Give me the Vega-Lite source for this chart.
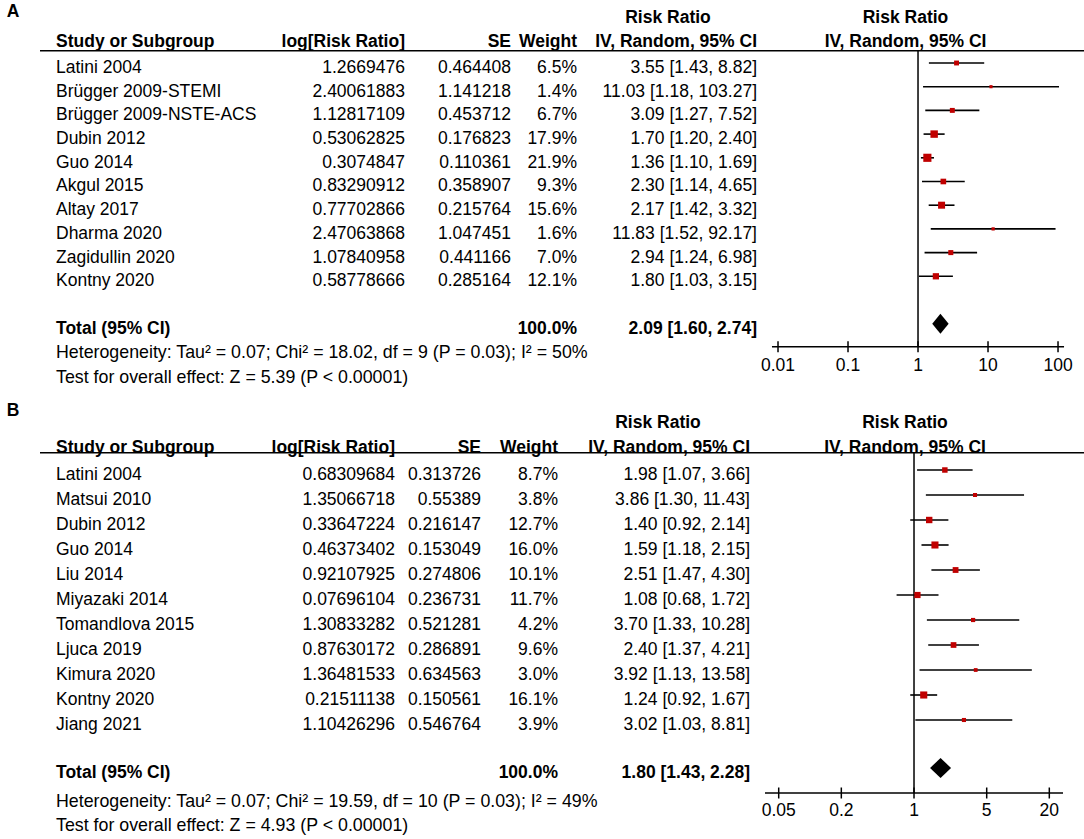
{
  "$schema": "https://vega.github.io/schema/vega-lite/v6.json",
  "padding": 0,
  "spacing": 0,
  "config": {
    "view": {"stroke": null},
    "font": "Liberation Sans",
    "text": {"font": "Liberation Sans", "fontSize": 17.5, "color": "#000", "baseline": "middle"}
  },
  "resolve": {"scale": {"x": "independent", "y": "independent", "size": "independent"}},
  "datasets": {
    "studiesA": [
      {"row": 1, "study": "Latini 2004", "logrr": "1.2669476", "se": "0.464408", "weight": 6.5, "wlabel": "6.5%", "ci": "3.55 [1.43, 8.82]", "rr": 3.55, "lo": 1.43, "hi": 8.82},
      {"row": 2, "study": "Brügger 2009-STEMI", "logrr": "2.40061883", "se": "1.141218", "weight": 1.4, "wlabel": "1.4%", "ci": "11.03 [1.18, 103.27]", "rr": 11.03, "lo": 1.18, "hi": 103.27},
      {"row": 3, "study": "Brügger 2009-NSTE-ACS", "logrr": "1.12817109", "se": "0.453712", "weight": 6.7, "wlabel": "6.7%", "ci": "3.09 [1.27, 7.52]", "rr": 3.09, "lo": 1.27, "hi": 7.52},
      {"row": 4, "study": "Dubin 2012", "logrr": "0.53062825", "se": "0.176823", "weight": 17.9, "wlabel": "17.9%", "ci": "1.70 [1.20, 2.40]", "rr": 1.70, "lo": 1.20, "hi": 2.40},
      {"row": 5, "study": "Guo 2014", "logrr": "0.3074847", "se": "0.110361", "weight": 21.9, "wlabel": "21.9%", "ci": "1.36 [1.10, 1.69]", "rr": 1.36, "lo": 1.10, "hi": 1.69},
      {"row": 6, "study": "Akgul 2015", "logrr": "0.83290912", "se": "0.358907", "weight": 9.3, "wlabel": "9.3%", "ci": "2.30 [1.14, 4.65]", "rr": 2.30, "lo": 1.14, "hi": 4.65},
      {"row": 7, "study": "Altay 2017", "logrr": "0.77702866", "se": "0.215764", "weight": 15.6, "wlabel": "15.6%", "ci": "2.17 [1.42, 3.32]", "rr": 2.17, "lo": 1.42, "hi": 3.32},
      {"row": 8, "study": "Dharma 2020", "logrr": "2.47063868", "se": "1.047451", "weight": 1.6, "wlabel": "1.6%", "ci": "11.83 [1.52, 92.17]", "rr": 11.83, "lo": 1.52, "hi": 92.17},
      {"row": 9, "study": "Zagidullin 2020", "logrr": "1.07840958", "se": "0.441166", "weight": 7.0, "wlabel": "7.0%", "ci": "2.94 [1.24, 6.98]", "rr": 2.94, "lo": 1.24, "hi": 6.98},
      {"row": 10, "study": "Kontny 2020", "logrr": "0.58778666", "se": "0.285164", "weight": 12.1, "wlabel": "12.1%", "ci": "1.80 [1.03, 3.15]", "rr": 1.80, "lo": 1.03, "hi": 3.15}
    ],
    "totalA": [
      {"label": "Total (95% CI)", "wlabel": "100.0%", "ci": "2.09 [1.60, 2.74]", "rr": 2.09, "lo": 1.60, "hi": 2.74,
       "het": "Heterogeneity: Tau² = 0.07; Chi² = 18.02, df = 9 (P = 0.03); I² = 50%",
       "test": "Test for overall effect: Z = 5.39 (P < 0.00001)"}
    ],
    "ticksA": [
      {"t": 0.01, "label": "0.01"}, {"t": 0.1, "label": "0.1"}, {"t": 1, "label": "1"}, {"t": 10, "label": "10"}, {"t": 100, "label": "100"}
    ],
    "studiesB": [
      {"row": 1, "study": "Latini 2004", "logrr": "0.68309684", "se": "0.313726", "weight": 8.7, "wlabel": "8.7%", "ci": "1.98 [1.07, 3.66]", "rr": 1.98, "lo": 1.07, "hi": 3.66},
      {"row": 2, "study": "Matsui 2010", "logrr": "1.35066718", "se": "0.55389", "weight": 3.8, "wlabel": "3.8%", "ci": "3.86 [1.30, 11.43]", "rr": 3.86, "lo": 1.30, "hi": 11.43},
      {"row": 3, "study": "Dubin 2012", "logrr": "0.33647224", "se": "0.216147", "weight": 12.7, "wlabel": "12.7%", "ci": "1.40 [0.92, 2.14]", "rr": 1.40, "lo": 0.92, "hi": 2.14},
      {"row": 4, "study": "Guo 2014", "logrr": "0.46373402", "se": "0.153049", "weight": 16.0, "wlabel": "16.0%", "ci": "1.59 [1.18, 2.15]", "rr": 1.59, "lo": 1.18, "hi": 2.15},
      {"row": 5, "study": "Liu 2014", "logrr": "0.92107925", "se": "0.274806", "weight": 10.1, "wlabel": "10.1%", "ci": "2.51 [1.47, 4.30]", "rr": 2.51, "lo": 1.47, "hi": 4.30},
      {"row": 6, "study": "Miyazaki 2014", "logrr": "0.07696104", "se": "0.236731", "weight": 11.7, "wlabel": "11.7%", "ci": "1.08 [0.68, 1.72]", "rr": 1.08, "lo": 0.68, "hi": 1.72},
      {"row": 7, "study": "Tomandlova 2015", "logrr": "1.30833282", "se": "0.521281", "weight": 4.2, "wlabel": "4.2%", "ci": "3.70 [1.33, 10.28]", "rr": 3.70, "lo": 1.33, "hi": 10.28},
      {"row": 8, "study": "Ljuca 2019", "logrr": "0.87630172", "se": "0.286891", "weight": 9.6, "wlabel": "9.6%", "ci": "2.40 [1.37, 4.21]", "rr": 2.40, "lo": 1.37, "hi": 4.21},
      {"row": 9, "study": "Kimura 2020", "logrr": "1.36481533", "se": "0.634563", "weight": 3.0, "wlabel": "3.0%", "ci": "3.92 [1.13, 13.58]", "rr": 3.92, "lo": 1.13, "hi": 13.58},
      {"row": 10, "study": "Kontny 2020", "logrr": "0.21511138", "se": "0.150561", "weight": 16.1, "wlabel": "16.1%", "ci": "1.24 [0.92, 1.67]", "rr": 1.24, "lo": 0.92, "hi": 1.67},
      {"row": 11, "study": "Jiang 2021", "logrr": "1.10426296", "se": "0.546764", "weight": 3.9, "wlabel": "3.9%", "ci": "3.02 [1.03, 8.81]", "rr": 3.02, "lo": 1.03, "hi": 8.81}
    ],
    "totalB": [
      {"label": "Total (95% CI)", "wlabel": "100.0%", "ci": "1.80 [1.43, 2.28]", "rr": 1.80, "lo": 1.43, "hi": 2.28,
       "het": "Heterogeneity: Tau² = 0.07; Chi² = 19.59, df = 10 (P = 0.03); I² = 49%",
       "test": "Test for overall effect: Z = 4.93 (P < 0.00001)"}
    ],
    "ticksB": [
      {"t": 0.05, "label": "0.05"}, {"t": 0.2, "label": "0.2"}, {"t": 1, "label": "1"}, {"t": 5, "label": "5"}, {"t": 20, "label": "20"}
    ]
  },
  "vconcat": [
    {
      "spacing": 0,
      "bounds": "flush",
      "resolve": {"scale": {"x": "independent", "y": "independent", "size": "independent"}},
      "hconcat": [
        {"width": 40, "height": 392, "data": {"values": [{}]},
         "mark": {"type": "text", "text": "A", "fontWeight": "bold", "dx": -7, "dy": 5},
         "encoding": {"y": {"datum": -1.35, "type": "quantitative", "scale": {"domain": [-1.658, 14.882], "reverse": true, "nice": false, "zero": false}, "axis": null}}},
        {"width": 260, "height": 392, "layer": [
          {"data": {"values": [{}]}, "mark": {"type": "rule", "strokeWidth": 1.5, "color": "#000"},
           "encoding": {"y": {"datum": 0.48, "type": "quantitative", "scale": {"domain": [-1.658, 14.882], "reverse": true, "nice": false, "zero": false}, "axis": null}}},
          {"data": {"values": [{}]}, "mark": {"type": "text", "text": "Study or Subgroup", "fontWeight": "bold", "align": "left", "dx": 16, "dy": 5},
           "encoding": {"x": {"value": 0}, "y": {"datum": -0.1, "type": "quantitative", "scale": {"domain": [-1.658, 14.882], "reverse": true, "nice": false, "zero": false}, "axis": null}}},
          {"data": {"name": "studiesA"}, "mark": {"type": "text", "align": "left", "dx": 16, "dy": 5},
           "encoding": {"x": {"value": 0}, "y": {"field": "row", "type": "quantitative", "scale": {"domain": [-1.658, 14.882], "reverse": true, "nice": false, "zero": false}, "axis": null}, "text": {"field": "study"}}},
          {"data": {"name": "totalA"}, "mark": {"type": "text", "align": "left", "dx": 16, "dy": 5, "fontWeight": "bold"},
           "encoding": {"x": {"value": 0}, "y": {"datum": 12, "type": "quantitative", "scale": {"domain": [-1.658, 14.882], "reverse": true, "nice": false, "zero": false}, "axis": null}, "text": {"field": "label"}}},
          {"data": {"name": "totalA"}, "mark": {"type": "text", "align": "left", "dx": 16, "dy": 5, "fontSize": 17.8},
           "encoding": {"x": {"value": 0}, "y": {"datum": 13.03, "type": "quantitative", "scale": {"domain": [-1.658, 14.882], "reverse": true, "nice": false, "zero": false}, "axis": null}, "text": {"field": "het"}}},
          {"data": {"name": "totalA"}, "mark": {"type": "text", "align": "left", "dx": 16, "dy": 5, "fontSize": 17.8},
           "encoding": {"x": {"value": 0}, "y": {"datum": 14.08, "type": "quantitative", "scale": {"domain": [-1.658, 14.882], "reverse": true, "nice": false, "zero": false}, "axis": null}, "text": {"field": "test"}}}
        ]},
        {"width": 105, "height": 392, "layer": [
          {"data": {"values": [{}]}, "mark": {"type": "rule", "strokeWidth": 1.5, "color": "#000"},
           "encoding": {"y": {"datum": 0.48, "type": "quantitative", "scale": {"domain": [-1.658, 14.882], "reverse": true, "nice": false, "zero": false}, "axis": null}}},
          {"data": {"values": [{}]}, "mark": {"type": "text", "text": "log[Risk Ratio]", "fontWeight": "bold", "align": "right", "dy": 5},
           "encoding": {"x": {"value": "width"}, "y": {"datum": -0.1, "type": "quantitative", "scale": {"domain": [-1.658, 14.882], "reverse": true, "nice": false, "zero": false}, "axis": null}}},
          {"data": {"name": "studiesA"}, "mark": {"type": "text", "align": "right", "dy": 5},
           "encoding": {"x": {"value": "width"}, "y": {"field": "row", "type": "quantitative", "scale": {"domain": [-1.658, 14.882], "reverse": true, "nice": false, "zero": false}, "axis": null}, "text": {"field": "logrr"}}}
        ]},
        {"width": 106, "height": 392, "layer": [
          {"data": {"values": [{}]}, "mark": {"type": "rule", "strokeWidth": 1.5, "color": "#000"},
           "encoding": {"y": {"datum": 0.48, "type": "quantitative", "scale": {"domain": [-1.658, 14.882], "reverse": true, "nice": false, "zero": false}, "axis": null}}},
          {"data": {"values": [{}]}, "mark": {"type": "text", "text": "SE", "fontWeight": "bold", "align": "right", "dy": 5},
           "encoding": {"x": {"value": "width"}, "y": {"datum": -0.1, "type": "quantitative", "scale": {"domain": [-1.658, 14.882], "reverse": true, "nice": false, "zero": false}, "axis": null}}},
          {"data": {"name": "studiesA"}, "mark": {"type": "text", "align": "right", "dy": 5},
           "encoding": {"x": {"value": "width"}, "y": {"field": "row", "type": "quantitative", "scale": {"domain": [-1.658, 14.882], "reverse": true, "nice": false, "zero": false}, "axis": null}, "text": {"field": "se"}}}
        ]},
        {"width": 66, "height": 392, "layer": [
          {"data": {"values": [{}]}, "mark": {"type": "rule", "strokeWidth": 1.5, "color": "#000"},
           "encoding": {"y": {"datum": 0.48, "type": "quantitative", "scale": {"domain": [-1.658, 14.882], "reverse": true, "nice": false, "zero": false}, "axis": null}}},
          {"data": {"values": [{}]}, "mark": {"type": "text", "text": "Weight", "fontWeight": "bold", "align": "right", "dy": 5},
           "encoding": {"x": {"value": "width"}, "y": {"datum": -0.1, "type": "quantitative", "scale": {"domain": [-1.658, 14.882], "reverse": true, "nice": false, "zero": false}, "axis": null}}},
          {"data": {"name": "studiesA"}, "mark": {"type": "text", "align": "right", "dy": 5},
           "encoding": {"x": {"value": "width"}, "y": {"field": "row", "type": "quantitative", "scale": {"domain": [-1.658, 14.882], "reverse": true, "nice": false, "zero": false}, "axis": null}, "text": {"field": "wlabel"}}},
          {"data": {"name": "totalA"}, "mark": {"type": "text", "align": "right", "dy": 5, "fontWeight": "bold"},
           "encoding": {"x": {"value": "width"}, "y": {"datum": 12, "type": "quantitative", "scale": {"domain": [-1.658, 14.882], "reverse": true, "nice": false, "zero": false}, "axis": null}, "text": {"field": "wlabel"}}}
        ]},
        {"width": 180, "height": 392, "layer": [
          {"data": {"values": [{}]}, "mark": {"type": "rule", "strokeWidth": 1.5, "color": "#000"},
           "encoding": {"y": {"datum": 0.48, "type": "quantitative", "scale": {"domain": [-1.658, 14.882], "reverse": true, "nice": false, "zero": false}, "axis": null}}},
          {"data": {"values": [{}]}, "mark": {"type": "text", "text": "Risk Ratio", "fontWeight": "bold", "align": "center", "dx": -89, "dy": 5},
           "encoding": {"x": {"value": "width"}, "y": {"datum": -1.1, "type": "quantitative", "scale": {"domain": [-1.658, 14.882], "reverse": true, "nice": false, "zero": false}, "axis": null}}},
          {"data": {"values": [{}]}, "mark": {"type": "text", "text": "IV, Random, 95% CI", "fontWeight": "bold", "align": "right", "dy": 5},
           "encoding": {"x": {"value": "width"}, "y": {"datum": -0.1, "type": "quantitative", "scale": {"domain": [-1.658, 14.882], "reverse": true, "nice": false, "zero": false}, "axis": null}}},
          {"data": {"name": "studiesA"}, "mark": {"type": "text", "align": "right", "dy": 5},
           "encoding": {"x": {"value": "width"}, "y": {"field": "row", "type": "quantitative", "scale": {"domain": [-1.658, 14.882], "reverse": true, "nice": false, "zero": false}, "axis": null}, "text": {"field": "ci"}}},
          {"data": {"name": "totalA"}, "mark": {"type": "text", "align": "right", "dy": 5, "fontWeight": "bold"},
           "encoding": {"x": {"value": "width"}, "y": {"datum": 12, "type": "quantitative", "scale": {"domain": [-1.658, 14.882], "reverse": true, "nice": false, "zero": false}, "axis": null}, "text": {"field": "ci"}}}
        ]},
        {"width": 327, "height": 392, "layer": [
          {"data": {"values": [{}]}, "mark": {"type": "rule", "strokeWidth": 1.5, "color": "#000"},
           "encoding": {"y": {"datum": 0.48, "type": "quantitative", "scale": {"domain": [-1.658, 14.882], "reverse": true, "nice": false, "zero": false}, "axis": null}}},
          {"data": {"values": [{}]}, "mark": {"type": "text", "text": "Risk Ratio", "fontWeight": "bold", "dx": -15, "dy": 5},
           "encoding": {"y": {"datum": -1.1, "type": "quantitative", "scale": {"domain": [-1.658, 14.882], "reverse": true, "nice": false, "zero": false}, "axis": null}}},
          {"data": {"values": [{}]}, "mark": {"type": "text", "text": "IV, Random, 95% CI", "fontWeight": "bold", "dx": -15, "dy": 5},
           "encoding": {"y": {"datum": -0.1, "type": "quantitative", "scale": {"domain": [-1.658, 14.882], "reverse": true, "nice": false, "zero": false}, "axis": null}}},
          {"data": {"values": [{}]}, "mark": {"type": "rule", "strokeWidth": 1.5, "color": "#000"},
           "encoding": {"x": {"datum": 1, "type": "quantitative", "scale": {"type": "log", "domain": [0.00501, 235], "nice": false}, "axis": null},
                        "y": {"datum": 0.48, "type": "quantitative", "scale": {"domain": [-1.658, 14.882], "reverse": true, "nice": false, "zero": false}, "axis": null},
                        "y2": {"datum": 12.97}}},
          {"data": {"name": "studiesA"}, "mark": {"type": "rule", "strokeWidth": 1.6, "color": "#000"},
           "encoding": {"x": {"field": "lo", "type": "quantitative", "scale": {"type": "log", "domain": [0.00501, 235], "nice": false}, "axis": null},
                        "x2": {"field": "hi"},
                        "y": {"field": "row", "type": "quantitative", "scale": {"domain": [-1.658, 14.882], "reverse": true, "nice": false, "zero": false}, "axis": null}}},
          {"data": {"name": "studiesA"}, "mark": {"type": "point", "shape": "square", "filled": true, "color": "#c00000", "opacity": 1},
           "encoding": {"x": {"field": "rr", "type": "quantitative", "scale": {"type": "log", "domain": [0.00501, 235], "nice": false}, "axis": null},
                        "y": {"field": "row", "type": "quantitative", "scale": {"domain": [-1.658, 14.882], "reverse": true, "nice": false, "zero": false}, "axis": null},
                        "size": {"field": "weight", "type": "quantitative", "scale": {"domain": [0, 25], "range": [6, 75]}, "legend": null}}},
          {"data": {"name": "totalA"}, "mark": {"type": "point", "shape": "M-0.82,0L0,-1L0.82,0L0,1Z", "filled": true, "color": "#000", "opacity": 1, "size": 400},
           "encoding": {"x": {"field": "rr", "type": "quantitative", "scale": {"type": "log", "domain": [0.00501, 235], "nice": false}, "axis": null},
                        "y": {"datum": 12, "type": "quantitative", "scale": {"domain": [-1.658, 14.882], "reverse": true, "nice": false, "zero": false}, "axis": null}}},
          {"data": {"values": [{}]}, "mark": {"type": "rule", "strokeWidth": 1.5, "color": "#000"},
           "encoding": {"x": {"datum": 0.0082, "type": "quantitative", "scale": {"type": "log", "domain": [0.00501, 235], "nice": false}, "axis": null},
                        "x2": {"datum": 121.9},
                        "y": {"datum": 12.97, "type": "quantitative", "scale": {"domain": [-1.658, 14.882], "reverse": true, "nice": false, "zero": false}, "axis": null}}},
          {"data": {"name": "ticksA"}, "mark": {"type": "rule", "strokeWidth": 1.5, "color": "#000"},
           "encoding": {"x": {"field": "t", "type": "quantitative", "scale": {"type": "log", "domain": [0.00501, 235], "nice": false}, "axis": null},
                        "y": {"datum": 12.74, "type": "quantitative", "scale": {"domain": [-1.658, 14.882], "reverse": true, "nice": false, "zero": false}, "axis": null},
                        "y2": {"datum": 13.2}}},
          {"data": {"name": "ticksA"}, "mark": {"type": "text"},
           "encoding": {"x": {"field": "t", "type": "quantitative", "scale": {"type": "log", "domain": [0.00501, 235], "nice": false}, "axis": null},
                        "y": {"datum": 13.78, "type": "quantitative", "scale": {"domain": [-1.658, 14.882], "reverse": true, "nice": false, "zero": false}, "axis": null},
                        "text": {"field": "label"}}}
        ]}
      ]
    },
    {
      "spacing": 0,
      "bounds": "flush",
      "resolve": {"scale": {"x": "independent", "y": "independent", "size": "independent"}},
      "hconcat": [
        {"width": 40, "height": 447, "data": {"values": [{}]},
         "mark": {"type": "text", "text": "B", "fontWeight": "bold", "dx": -7, "dy": 5},
         "encoding": {"y": {"datum": -1.56, "type": "quantitative", "scale": {"domain": [-2.12, 15.76], "reverse": true, "nice": false, "zero": false}, "axis": null}}},
        {"width": 250, "height": 447, "layer": [
          {"data": {"values": [{}]}, "mark": {"type": "rule", "strokeWidth": 1.5, "color": "#000"},
           "encoding": {"y": {"datum": 0.31, "type": "quantitative", "scale": {"domain": [-2.12, 15.76], "reverse": true, "nice": false, "zero": false}, "axis": null}}},
          {"data": {"values": [{}]}, "mark": {"type": "text", "text": "Study or Subgroup", "fontWeight": "bold", "align": "left", "dx": 16, "dy": 5},
           "encoding": {"x": {"value": 0}, "y": {"datum": -0.08, "type": "quantitative", "scale": {"domain": [-2.12, 15.76], "reverse": true, "nice": false, "zero": false}, "axis": null}}},
          {"data": {"name": "studiesB"}, "mark": {"type": "text", "align": "left", "dx": 16, "dy": 5},
           "encoding": {"x": {"value": 0}, "y": {"field": "row", "type": "quantitative", "scale": {"domain": [-2.12, 15.76], "reverse": true, "nice": false, "zero": false}, "axis": null}, "text": {"field": "study"}}},
          {"data": {"name": "totalB"}, "mark": {"type": "text", "align": "left", "dx": 16, "dy": 5, "fontWeight": "bold"},
           "encoding": {"x": {"value": 0}, "y": {"datum": 12.9, "type": "quantitative", "scale": {"domain": [-2.12, 15.76], "reverse": true, "nice": false, "zero": false}, "axis": null}, "text": {"field": "label"}}},
          {"data": {"name": "totalB"}, "mark": {"type": "text", "align": "left", "dx": 16, "dy": 5, "fontSize": 17.8},
           "encoding": {"x": {"value": 0}, "y": {"datum": 14.08, "type": "quantitative", "scale": {"domain": [-2.12, 15.76], "reverse": true, "nice": false, "zero": false}, "axis": null}, "text": {"field": "het"}}},
          {"data": {"name": "totalB"}, "mark": {"type": "text", "align": "left", "dx": 16, "dy": 5, "fontSize": 17.8},
           "encoding": {"x": {"value": 0}, "y": {"datum": 15.04, "type": "quantitative", "scale": {"domain": [-2.12, 15.76], "reverse": true, "nice": false, "zero": false}, "axis": null}, "text": {"field": "test"}}}
        ]},
        {"width": 105, "height": 447, "layer": [
          {"data": {"values": [{}]}, "mark": {"type": "rule", "strokeWidth": 1.5, "color": "#000"},
           "encoding": {"y": {"datum": 0.31, "type": "quantitative", "scale": {"domain": [-2.12, 15.76], "reverse": true, "nice": false, "zero": false}, "axis": null}}},
          {"data": {"values": [{}]}, "mark": {"type": "text", "text": "log[Risk Ratio]", "fontWeight": "bold", "align": "right", "dy": 5},
           "encoding": {"x": {"value": "width"}, "y": {"datum": -0.08, "type": "quantitative", "scale": {"domain": [-2.12, 15.76], "reverse": true, "nice": false, "zero": false}, "axis": null}}},
          {"data": {"name": "studiesB"}, "mark": {"type": "text", "align": "right", "dy": 5},
           "encoding": {"x": {"value": "width"}, "y": {"field": "row", "type": "quantitative", "scale": {"domain": [-2.12, 15.76], "reverse": true, "nice": false, "zero": false}, "axis": null}, "text": {"field": "logrr"}}}
        ]},
        {"width": 86, "height": 447, "layer": [
          {"data": {"values": [{}]}, "mark": {"type": "rule", "strokeWidth": 1.5, "color": "#000"},
           "encoding": {"y": {"datum": 0.31, "type": "quantitative", "scale": {"domain": [-2.12, 15.76], "reverse": true, "nice": false, "zero": false}, "axis": null}}},
          {"data": {"values": [{}]}, "mark": {"type": "text", "text": "SE", "fontWeight": "bold", "align": "right", "dy": 5},
           "encoding": {"x": {"value": "width"}, "y": {"datum": -0.08, "type": "quantitative", "scale": {"domain": [-2.12, 15.76], "reverse": true, "nice": false, "zero": false}, "axis": null}}},
          {"data": {"name": "studiesB"}, "mark": {"type": "text", "align": "right", "dy": 5},
           "encoding": {"x": {"value": "width"}, "y": {"field": "row", "type": "quantitative", "scale": {"domain": [-2.12, 15.76], "reverse": true, "nice": false, "zero": false}, "axis": null}, "text": {"field": "se"}}}
        ]},
        {"width": 77, "height": 447, "layer": [
          {"data": {"values": [{}]}, "mark": {"type": "rule", "strokeWidth": 1.5, "color": "#000"},
           "encoding": {"y": {"datum": 0.31, "type": "quantitative", "scale": {"domain": [-2.12, 15.76], "reverse": true, "nice": false, "zero": false}, "axis": null}}},
          {"data": {"values": [{}]}, "mark": {"type": "text", "text": "Weight", "fontWeight": "bold", "align": "right", "dy": 5},
           "encoding": {"x": {"value": "width"}, "y": {"datum": -0.08, "type": "quantitative", "scale": {"domain": [-2.12, 15.76], "reverse": true, "nice": false, "zero": false}, "axis": null}}},
          {"data": {"name": "studiesB"}, "mark": {"type": "text", "align": "right", "dy": 5},
           "encoding": {"x": {"value": "width"}, "y": {"field": "row", "type": "quantitative", "scale": {"domain": [-2.12, 15.76], "reverse": true, "nice": false, "zero": false}, "axis": null}, "text": {"field": "wlabel"}}},
          {"data": {"name": "totalB"}, "mark": {"type": "text", "align": "right", "dy": 5, "fontWeight": "bold"},
           "encoding": {"x": {"value": "width"}, "y": {"datum": 12.9, "type": "quantitative", "scale": {"domain": [-2.12, 15.76], "reverse": true, "nice": false, "zero": false}, "axis": null}, "text": {"field": "wlabel"}}}
        ]},
        {"width": 192, "height": 447, "layer": [
          {"data": {"values": [{}]}, "mark": {"type": "rule", "strokeWidth": 1.5, "color": "#000"},
           "encoding": {"y": {"datum": 0.31, "type": "quantitative", "scale": {"domain": [-2.12, 15.76], "reverse": true, "nice": false, "zero": false}, "axis": null}}},
          {"data": {"values": [{}]}, "mark": {"type": "text", "text": "Risk Ratio", "fontWeight": "bold", "align": "center", "dx": -92, "dy": 5},
           "encoding": {"x": {"value": "width"}, "y": {"datum": -1.08, "type": "quantitative", "scale": {"domain": [-2.12, 15.76], "reverse": true, "nice": false, "zero": false}, "axis": null}}},
          {"data": {"values": [{}]}, "mark": {"type": "text", "text": "IV, Random, 95% CI", "fontWeight": "bold", "align": "right", "dy": 5},
           "encoding": {"x": {"value": "width"}, "y": {"datum": -0.08, "type": "quantitative", "scale": {"domain": [-2.12, 15.76], "reverse": true, "nice": false, "zero": false}, "axis": null}}},
          {"data": {"name": "studiesB"}, "mark": {"type": "text", "align": "right", "dy": 5},
           "encoding": {"x": {"value": "width"}, "y": {"field": "row", "type": "quantitative", "scale": {"domain": [-2.12, 15.76], "reverse": true, "nice": false, "zero": false}, "axis": null}, "text": {"field": "ci"}}},
          {"data": {"name": "totalB"}, "mark": {"type": "text", "align": "right", "dy": 5, "fontWeight": "bold"},
           "encoding": {"x": {"value": "width"}, "y": {"datum": 12.9, "type": "quantitative", "scale": {"domain": [-2.12, 15.76], "reverse": true, "nice": false, "zero": false}, "axis": null}, "text": {"field": "ci"}}}
        ]},
        {"width": 334, "height": 447, "layer": [
          {"data": {"values": [{}]}, "mark": {"type": "rule", "strokeWidth": 1.5, "color": "#000"},
           "encoding": {"y": {"datum": 0.31, "type": "quantitative", "scale": {"domain": [-2.12, 15.76], "reverse": true, "nice": false, "zero": false}, "axis": null}}},
          {"data": {"values": [{}]}, "mark": {"type": "text", "text": "Risk Ratio", "fontWeight": "bold", "dx": -12, "dy": 5},
           "encoding": {"y": {"datum": -1.08, "type": "quantitative", "scale": {"domain": [-2.12, 15.76], "reverse": true, "nice": false, "zero": false}, "axis": null}}},
          {"data": {"values": [{}]}, "mark": {"type": "text", "text": "IV, Random, 95% CI", "fontWeight": "bold", "dx": -12, "dy": 5},
           "encoding": {"y": {"datum": -0.08, "type": "quantitative", "scale": {"domain": [-2.12, 15.76], "reverse": true, "nice": false, "zero": false}, "axis": null}}},
          {"data": {"values": [{}]}, "mark": {"type": "rule", "strokeWidth": 1.5, "color": "#000"},
           "encoding": {"x": {"datum": 1, "type": "quantitative", "scale": {"type": "log", "domain": [0.02648, 43.11], "nice": false}, "axis": null},
                        "y": {"datum": 0.31, "type": "quantitative", "scale": {"domain": [-2.12, 15.76], "reverse": true, "nice": false, "zero": false}, "axis": null},
                        "y2": {"datum": 13.92}}},
          {"data": {"name": "studiesB"}, "mark": {"type": "rule", "strokeWidth": 1.6, "color": "#000"},
           "encoding": {"x": {"field": "lo", "type": "quantitative", "scale": {"type": "log", "domain": [0.02648, 43.11], "nice": false}, "axis": null},
                        "x2": {"field": "hi"},
                        "y": {"field": "row", "type": "quantitative", "scale": {"domain": [-2.12, 15.76], "reverse": true, "nice": false, "zero": false}, "axis": null}}},
          {"data": {"name": "studiesB"}, "mark": {"type": "point", "shape": "square", "filled": true, "color": "#c00000", "opacity": 1},
           "encoding": {"x": {"field": "rr", "type": "quantitative", "scale": {"type": "log", "domain": [0.02648, 43.11], "nice": false}, "axis": null},
                        "y": {"field": "row", "type": "quantitative", "scale": {"domain": [-2.12, 15.76], "reverse": true, "nice": false, "zero": false}, "axis": null},
                        "size": {"field": "weight", "type": "quantitative", "scale": {"domain": [0, 25], "range": [6, 75]}, "legend": null}}},
          {"data": {"name": "totalB"}, "mark": {"type": "point", "shape": "M-1.05,0L0,-1L1.05,0L0,1Z", "filled": true, "color": "#000", "opacity": 1, "size": 400},
           "encoding": {"x": {"field": "rr", "type": "quantitative", "scale": {"type": "log", "domain": [0.02648, 43.11], "nice": false}, "axis": null},
                        "y": {"datum": 12.92, "type": "quantitative", "scale": {"domain": [-2.12, 15.76], "reverse": true, "nice": false, "zero": false}, "axis": null}}},
          {"data": {"values": [{}]}, "mark": {"type": "rule", "strokeWidth": 1.5, "color": "#000"},
           "encoding": {"x": {"datum": 0.0369, "type": "quantitative", "scale": {"type": "log", "domain": [0.02648, 43.11], "nice": false}, "axis": null},
                        "x2": {"datum": 27.1},
                        "y": {"datum": 13.92, "type": "quantitative", "scale": {"domain": [-2.12, 15.76], "reverse": true, "nice": false, "zero": false}, "axis": null}}},
          {"data": {"name": "ticksB"}, "mark": {"type": "rule", "strokeWidth": 1.5, "color": "#000"},
           "encoding": {"x": {"field": "t", "type": "quantitative", "scale": {"type": "log", "domain": [0.02648, 43.11], "nice": false}, "axis": null},
                        "y": {"datum": 13.7, "type": "quantitative", "scale": {"domain": [-2.12, 15.76], "reverse": true, "nice": false, "zero": false}, "axis": null},
                        "y2": {"datum": 14.14}}},
          {"data": {"name": "ticksB"}, "mark": {"type": "text"},
           "encoding": {"x": {"field": "t", "type": "quantitative", "scale": {"type": "log", "domain": [0.02648, 43.11], "nice": false}, "axis": null},
                        "y": {"datum": 14.64, "type": "quantitative", "scale": {"domain": [-2.12, 15.76], "reverse": true, "nice": false, "zero": false}, "axis": null},
                        "text": {"field": "label"}}}
        ]}
      ]
    }
  ]
}
